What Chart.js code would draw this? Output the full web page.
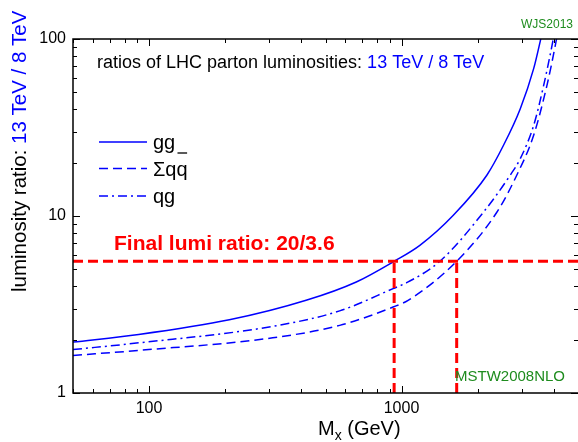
<!DOCTYPE html>
<html>
<head>
<meta charset="utf-8">
<script src="https://cdn.jsdelivr.net/npm/chart.js@4.4.1/dist/chart.umd.min.js"></script>
<style>
  html, body { margin: 0; padding: 0; background: #fff; }
  #lumiChart { display: block; }
</style>
</head>
<body>
<canvas id="lumiChart" width="578" height="442"></canvas>
<script>
// Parton luminosity ratios 13 TeV / 8 TeV vs invariant mass M_x (GeV)
const massGG = [50, 91, 208, 419, 662, 935, 1182, 1604, 2177, 2535, 2954, 3337, 3548, 3590];
const ratioGG = [1.94, 2.14, 2.59, 3.34, 4.24, 5.55, 6.83, 10.1, 17.0, 25.1, 40.4, 68, 98, 106];

const massQQ = [50, 91, 309, 569, 926, 1062, 1654, 2385, 2860, 3337, 3767, 4065, 4150];
const ratioQQ = [1.63, 1.74, 2.05, 2.41, 3.06, 3.34, 5.55, 10.5, 17, 28.6, 54.7, 92, 108];

const massQG = [50, 91, 309, 569, 926, 1062, 1419, 2110, 2694, 2954, 3337, 3656, 3946, 4030];
const ratioQG = [1.76, 1.92, 2.38, 2.91, 3.89, 4.24, 5.55, 10.5, 17, 21.1, 32.5, 54.7, 92, 108];

// final lumi ratio line and the masses where gg and qqbar reach it
const lumiRatio = 20 / 3.6;
const crossMass = [935, 1654];

// axis ticks
const xMajor = [100, 1000];
const xMinor = [50, 60, 70, 80, 90, 200, 300, 400, 500, 600, 700, 800, 900, 2000, 3000, 4000, 5000];
const yMajor = [1, 10, 100];
const yMinor = [2, 3, 4, 5, 6, 7, 8, 9, 20, 30, 40, 50, 60, 70, 80, 90];

const seriesNames = ['gg', 'Σqq', 'qg'];

const FONT = "'Liberation Sans', Arial, Helvetica, sans-serif";
const BLUE = '#0000ff';
const RED = '#ff0000';
const GREEN = '#1e8c1e';
const DASH = [9, 5];
const DASH_DOT = [9, 4, 2, 4];

const toPoints = (xs, ys) => xs.map((v, i) => ({ x: v, y: ys[i] }));

// frame, inward ticks, labels and legend drawn on top of the plot
const overlay = {
  id: 'overlay',
  afterDatasetsDraw(chart) {
    const { ctx, chartArea: a, scales: { x, y } } = chart;
    ctx.save();

    ctx.strokeStyle = '#000';
    ctx.lineWidth = 1.5;
    ctx.beginPath();
    ctx.moveTo(a.right + 2, a.top);
    ctx.lineTo(a.left, a.top);
    ctx.lineTo(a.left, a.bottom);
    ctx.lineTo(a.right + 2, a.bottom);
    ctx.stroke();

    ctx.lineWidth = 1;
    ctx.beginPath();
    xMajor.concat(xMinor).forEach(v => {
      const len = xMajor.includes(v) ? 7 : 4;
      const px = Math.round(x.getPixelForValue(v)) + 0.5;
      ctx.moveTo(px, a.bottom); ctx.lineTo(px, a.bottom - len);
      ctx.moveTo(px, a.top); ctx.lineTo(px, a.top + len);
    });
    yMajor.concat(yMinor).forEach(v => {
      const len = yMajor.includes(v) ? 7 : 4;
      const py = Math.round(y.getPixelForValue(v)) + 0.5;
      ctx.moveTo(a.left, py); ctx.lineTo(a.left + len, py);
      ctx.moveTo(a.right, py); ctx.lineTo(a.right - len, py);
    });
    ctx.stroke();

    // tick labels
    ctx.fillStyle = '#000';
    ctx.font = '16px ' + FONT;
    ctx.textAlign = 'right';
    ctx.textBaseline = 'middle';
    yMajor.forEach(v => ctx.fillText(String(v), 66, y.getPixelForValue(v)));
    ctx.textAlign = 'center';
    ctx.textBaseline = 'alphabetic';
    xMajor.forEach(v => ctx.fillText(String(v), x.getPixelForValue(v), 413));

    // x title with subscript
    ctx.textAlign = 'left';
    ctx.font = '20px ' + FONT;
    let tx = 318;
    ctx.fillText('M', tx, 435);
    tx += ctx.measureText('M').width;
    ctx.font = '14px ' + FONT;
    ctx.fillText('x', tx, 440);
    tx += ctx.measureText('x').width;
    ctx.font = '20px ' + FONT;
    ctx.fillText(' (GeV)', tx, 435);

    // y title, rotated
    ctx.save();
    ctx.translate(26, 292);
    ctx.rotate(-Math.PI / 2);
    ctx.font = '20.5px ' + FONT;
    const yLead = 'luminosity ratio: ';
    ctx.fillStyle = '#000';
    ctx.fillText(yLead, 0, 0);
    ctx.fillStyle = BLUE;
    ctx.fillText('13 TeV / 8 TeV', ctx.measureText(yLead).width, 0);
    ctx.restore();

    // heading inside the plot
    ctx.font = '18px ' + FONT;
    const lead = 'ratios of LHC parton luminosities: ';
    ctx.fillStyle = '#000';
    ctx.fillText(lead, 97, 68);
    ctx.fillStyle = BLUE;
    ctx.fillText('13 TeV / 8 TeV', 97 + ctx.measureText(lead).width, 68);

    // legend
    const styles = [[], DASH, DASH_DOT];
    const rows = [142, 168.5, 196];
    ctx.font = '20px ' + FONT;
    seriesNames.forEach((name, i) => {
      ctx.strokeStyle = BLUE;
      ctx.lineWidth = 1.5;
      ctx.setLineDash(styles[i]);
      ctx.beginPath();
      ctx.moveTo(99, rows[i]);
      ctx.lineTo(147, rows[i]);
      ctx.stroke();
      ctx.setLineDash([]);
      ctx.fillStyle = '#000';
      ctx.fillText(name, 153, rows[i] + 7);
      if (i === 1) {
        // bar over the antiquark
        const x0 = 153 + ctx.measureText('Σq').width;
        const x1 = 153 + ctx.measureText(name).width;
        ctx.strokeStyle = '#000';
        ctx.lineWidth = 1.3;
        ctx.beginPath();
        ctx.moveTo(x0 + 1, rows[i] - 15.5);
        ctx.lineTo(x1 - 0.5, rows[i] - 15.5);
        ctx.stroke();
      }
    });

    // annotations
    ctx.fillStyle = RED;
    ctx.font = 'bold 21px ' + FONT;
    ctx.fillText('Final lumi ratio: 20/3.6', 114, 250);

    ctx.fillStyle = GREEN;
    ctx.font = '15px ' + FONT;
    ctx.fillText('MSTW2008NLO', 455, 381);
    ctx.font = '12px ' + FONT;
    ctx.textAlign = 'right';
    ctx.fillText('WJS2013', 573, 28);

    ctx.restore();
  }
};

const redLine = (pts) => ({
  data: pts,
  borderColor: RED,
  borderWidth: 3,
  borderDash: [10, 5],
  pointRadius: 0,
  tension: 0
});

const curve = (pts, dash) => ({
  data: pts,
  borderColor: BLUE,
  borderWidth: 1.5,
  borderDash: dash,
  pointRadius: 0,
  cubicInterpolationMode: 'monotone'
});

const canvas = document.getElementById('lumiChart');

new Chart(canvas, {
  type: 'line',
  data: {
    datasets: [
      redLine([{ x: 50, y: lumiRatio }, { x: 5000, y: lumiRatio }]),
      redLine([{ x: crossMass[0], y: 1 }, { x: crossMass[0], y: lumiRatio }]),
      redLine([{ x: crossMass[1], y: 1 }, { x: crossMass[1], y: lumiRatio }]),
      curve(toPoints(massGG, ratioGG), []),
      curve(toPoints(massQQ, ratioQQ), DASH),
      curve(toPoints(massQG, ratioQG), DASH_DOT)
    ]
  },
  options: {
    responsive: false,
    animation: false,
    devicePixelRatio: 1,
    layout: { padding: { top: 39, right: 0, left: 0, bottom: 0 } },
    plugins: {
      legend: { display: false },
      tooltip: { enabled: false }
    },
    scales: {
      x: {
        type: 'logarithmic',
        min: 50,
        max: 5000,
        grid: { display: false, drawTicks: false },
        border: { display: false },
        ticks: { display: false },
        afterFit: s => { s.height = 49; }
      },
      y: {
        type: 'logarithmic',
        min: 1,
        max: 100,
        grid: { display: false, drawTicks: false },
        border: { display: false },
        ticks: { display: false },
        afterFit: s => { s.width = 73; }
      }
    }
  },
  plugins: [overlay]
});
</script>
</body>
</html>
